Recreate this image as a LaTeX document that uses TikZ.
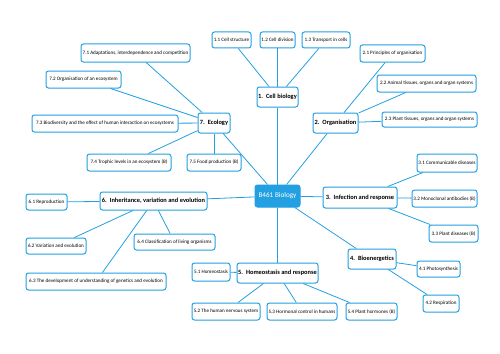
\documentclass[tikz,border=0pt]{standalone}
\usepackage{fontspec}
\setmainfont{Carlito}
\definecolor{bl}{RGB}{35,160,225}
\newcommand\bx[7]{\node[#1, minimum width={#4-#2}, minimum height={#5-#3}] (#6) at ({(#2+#4)/2},{(#3+#5)/2}) {#7};}
\begin{document}
\begin{tikzpicture}[x=1pt,y=-1pt,
  sub/.style={draw=bl, line width=1pt, rounded corners=2.5pt, fill=white, inner sep=0pt, font=\fontsize{5.1}{5.5}\selectfont},
  main/.style={sub, font=\bfseries\fontsize{6.4}{7}\selectfont},
  hub/.style={sub, fill=bl, text=white, font=\fontsize{7.2}{8}\selectfont},
  ln/.style={draw=bl, line width=0.8pt}]
\fill[white] (0,0) rectangle (500,353);
\useasboundingbox (0,0) rectangle (500,353);
\bx{hub}{255}{185}{300}{207}{c}{B461 Biology}
\bx{main}{257}{87}{298}{107}{n1}{1.\ \ Cell biology}
\bx{sub}{212}{32}{251}{48}{n11}{1.1 Cell structure}
\bx{sub}{260}{32}{295}{48}{n12}{1.2 Cell division}
\bx{sub}{302}{32}{350}{48}{n13}{1.3 Transport in cells}
\bx{main}{313}{113}{358}{133}{n2}{2.\ \ Organisation}
\bx{sub}{360}{45}{425}{62}{n21}{2.1 Principles of organisation}
\bx{sub}{377}{75}{476}{92}{n22}{2.2 Animal tissues, organs and organ systems}
\bx{sub}{382}{112}{477}{127}{n23}{2.3 Plant tissues, organs and organ systems}
\bx{main}{323}{187}{397}{208}{n3}{3.\ \ Infection and response}
\bx{sub}{417}{154}{477}{172}{n31}{3.1 Communicable diseases}
\bx{sub}{412}{190}{477}{207}{n32}{3.2 Monoclonal antibodies (B)}
\bx{sub}{429}{225}{478}{242}{n33}{3.3 Plant diseases (B)}
\bx{main}{348}{249}{396}{269}{n4}{4.\ \ Bioenergetics}
\bx{sub}{417}{261}{460}{277}{n41}{4.1 Photosynthesis}
\bx{sub}{423}{295}{459}{312}{n42}{4.2 Respiration}
\bx{main}{237}{263}{318}{283}{n5}{5.\ \ Homeostasis and response}
\bx{sub}{192}{263}{230}{281}{n51}{5.1 Homeostasis}
\bx{sub}{192}{303}{260}{320}{n52}{5.2 The human nervous system}
\bx{sub}{267}{303}{337}{320}{n53}{5.3 Hormonal control in humans}
\bx{sub}{346}{303}{397}{320}{n54}{5.4 Plant hormones (B)}
\bx{main}{100}{192}{207}{210}{n6}{6.\ \ Inheritance, variation and evolution}
\bx{sub}{26}{194}{67}{210}{n61}{6.1 Reproduction}
\bx{sub}{26}{238}{86}{254}{n62}{6.2 Variation and evolution}
\bx{sub}{26}{273}{166}{290}{n63}{6.3 The development of understanding of genetics and evolution}
\bx{sub}{134}{234}{215}{250}{n64}{6.4 Classification of living organisms}
\bx{main}{198}{113}{230}{133}{n7}{7.\ \ Ecology}
\bx{sub}{81}{44}{190}{62}{n71}{7.1 Adaptations, interdependence and competition}
\bx{sub}{46}{71}{121}{88}{n72}{7.2 Organisation of an ecosystem}
\bx{sub}{32}{115}{178}{132}{n73}{7.3 Biodiversity and the effect of human interaction on ecosystems}
\bx{sub}{87}{154}{171}{171}{n74}{7.4 Trophic levels in an ecosystem (B)}
\bx{sub}{187}{154}{241}{171}{n75}{7.5 Food production (B)}
\foreach \a/\b in {c/n1,c/n2,c/n3,c/n4,c/n5,c/n6,c/n7,
  n1/n11,n1/n12,n1/n13,n2/n21,n2/n22,n2/n23,n3/n31,n3/n32,n3/n33,
  n4/n41,n4/n42,n5/n51,n5/n52,n5/n53,n5/n54,n6/n61,n6/n62,n6/n63,n6/n64,
  n7/n71,n7/n72,n7/n73,n7/n74,n7/n75}
  \draw[ln] (\a) -- (\b);
\end{tikzpicture}
\end{document}
